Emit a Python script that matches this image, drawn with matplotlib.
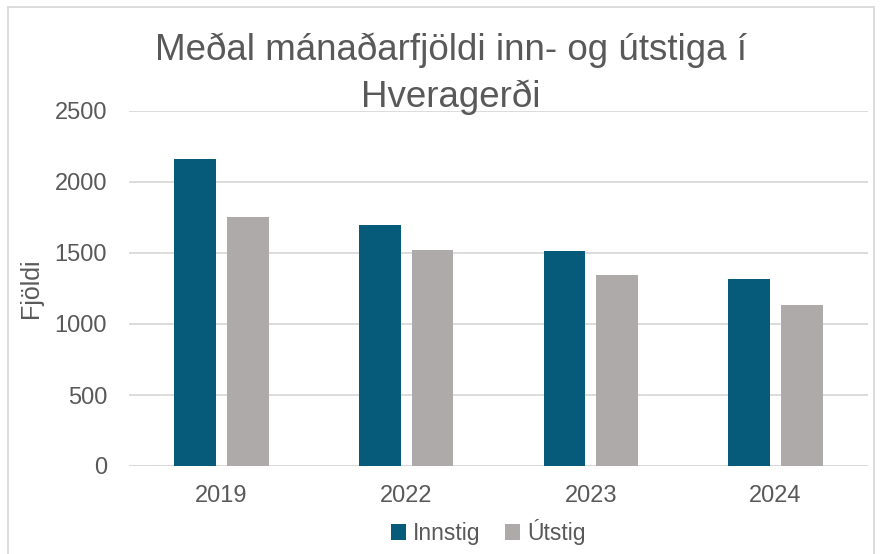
import numpy as np
import matplotlib.pyplot as plt
from matplotlib.patches import Rectangle

plt.rcParams['font.family'] = ['Liberation Sans', 'DejaVu Sans']

years = ['2019', '2022', '2023', '2024']
innstig = [2160, 1699, 1516, 1315]
utstig = [1754, 1519, 1345, 1132]
series_names = ['Innstig', 'Útstig']
title_lines = ['Meðal mánaðarfjöldi inn- og útstiga í', 'Hveragerði']
y_ticks = [0, 500, 1000, 1500, 2000, 2500]

text_col = '#595959'
col_inn = '#065B7B'
col_ut = '#AEAAAA'

fig = plt.figure(figsize=(8.82, 5.54), dpi=100)
ax = fig.add_axes([129.3 / 882, 1 - 466 / 554, (867.7 - 129.3) / 882, (466 - 111) / 554])

x = np.arange(len(years))
w = 0.226
off = 0.143
ax.bar(x - off, innstig, w, color=col_inn, label=series_names[0], zorder=3)
ax.bar(x + off, utstig, w, color=col_ut, label=series_names[1], zorder=3)

ax.set_xlim(-0.5, len(years) - 0.5)
ax.set_ylim(0, 2500)
ax.set_yticks(y_ticks)
ax.set_xticks(x)
ax.set_xticklabels(years)
ax.tick_params(axis='both', length=0, labelsize=17, colors=text_col)
ax.tick_params(axis='y', pad=16)
ax.tick_params(axis='x', pad=14)
ax.yaxis.grid(True, color='#D9D9D9', linewidth=1.3, zorder=0)
for s in ax.spines.values():
    s.set_visible(False)
ax.axhline(0, color='#D9D9D9', linewidth=1.3, zorder=2)

# title, two lines placed on their baselines
fig.text(451 / 882, 1 - 59.5 / 554, title_lines[0], ha='center', va='baseline',
         fontsize=26.5, color=text_col)
fig.text(451 / 882, 1 - 106.5 / 554, title_lines[1], ha='center', va='baseline',
         fontsize=26.5, color=text_col)
fig.text(31 / 882, 1 - 288 / 554, 'Fjöldi', rotation=90, ha='center', va='center',
         fontsize=18, color=text_col)

fig.legend(loc='center', bbox_to_anchor=(488 / 882, 1 - 532 / 554), ncol=2,
           frameon=False, fontsize=16.5, labelcolor=text_col, handlelength=0.65,
           handleheight=0.65, handletextpad=0.3, columnspacing=1.1)

fig.patches.append(Rectangle((8 / 882, -0.1), (874 - 8) / 882, 1.1 - 7 / 554,
                             transform=fig.transFigure, fill=False,
                             edgecolor='#D9D9D9', linewidth=1.3))

fig.savefig('out.png', dpi=100)
